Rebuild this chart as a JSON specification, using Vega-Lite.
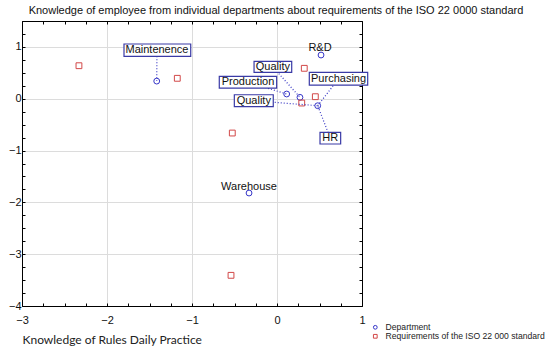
{
  "$schema": "https://vega.github.io/schema/vega-lite/v6.json",
  "width": 340,
  "height": 285,
  "autosize": "none",
  "padding": {"left": 22, "top": 21, "right": 188, "bottom": 43},
  "background": "white",
  "title": {
    "text": "Knowledge of employee from individual departments about requirements of the ISO 22 0000 standard",
    "font": "Liberation Sans",
    "fontSize": 11,
    "fontWeight": "normal",
    "color": "#111111",
    "anchor": "middle",
    "dx": 84,
    "offset": -1
  },
  "config": {
    "view": {"stroke": null},
    "axis": {
      "labelFont": "Liberation Sans",
      "labelFontSize": 11,
      "labelColor": "#111111",
      "domainColor": "#000000",
      "tickColor": "#000000",
      "labelFlush": false,
      "labelOverlap": false,
      "labelBound": false
    }
  },
  "datasets": {
    "points": [
      {"name": "Maintenence", "x": -1.415, "y": 0.34, "type": "Department"},
      {"name": "R&D", "x": 0.518, "y": 0.843, "type": "Department"},
      {"name": "Production", "x": 0.114, "y": 0.091, "type": "Department"},
      {"name": "Quality", "x": 0.27, "y": 0.027, "type": "Department"},
      {"name": "HR", "x": 0.479, "y": -0.135, "type": "Department"},
      {"name": "Warehouse", "x": -0.329, "y": -1.82, "type": "Department"},
      {"name": "R1", "x": -2.33, "y": 0.637, "type": "Requirements of the ISO 22 000 standard"},
      {"name": "R2", "x": -1.173, "y": 0.394, "type": "Requirements of the ISO 22 000 standard"},
      {"name": "R3", "x": 0.321, "y": 0.587, "type": "Requirements of the ISO 22 000 standard"},
      {"name": "R4", "x": 0.451, "y": 0.039, "type": "Requirements of the ISO 22 000 standard"},
      {"name": "R5", "x": 0.291, "y": -0.083, "type": "Requirements of the ISO 22 000 standard"},
      {"name": "R6", "x": -0.526, "y": -0.662, "type": "Requirements of the ISO 22 000 standard"},
      {"name": "R7", "x": -0.541, "y": -3.408, "type": "Requirements of the ISO 22 000 standard"}
    ],
    "labels": [
      {"label": "Maintenence", "lx": -1.412, "ly": 0.934, "bx1": -1.8, "bx2": -1.015, "by1": 1.056, "by2": 0.818, "px": -1.415, "py": 0.34},
      {"label": "Quality", "lx": -0.049, "ly": 0.616, "bx1": -0.27, "bx2": 0.173, "by1": 0.722, "by2": 0.509, "px": 0.27, "py": 0.027},
      {"label": "Production", "lx": -0.341, "ly": 0.318, "bx1": -0.679, "bx2": -0.004, "by1": 0.432, "by2": 0.206, "px": 0.114, "py": 0.091},
      {"label": "Quality", "lx": -0.273, "ly": -0.039, "bx1": -0.502, "bx2": -0.044, "by1": 0.077, "by2": -0.154, "px": 0.479, "py": -0.135},
      {"label": "Purchasing", "lx": 0.724, "ly": 0.386, "bx1": 0.38, "bx2": 1.067, "by1": 0.509, "by2": 0.264, "px": 0.479, "py": -0.135},
      {"label": "HR", "lx": 0.627, "ly": -0.762, "bx1": 0.506, "bx2": 0.749, "by1": -0.648, "by2": -0.874, "px": 0.479, "py": -0.135}
    ],
    "plain": [
      {"label": "R&D", "lx": 0.506, "ly": 0.972},
      {"label": "Warehouse", "lx": -0.329, "ly": -1.704}
    ]
  },
  "layer": [
    {
      "data": {"name": "points"},
      "mark": {"type": "point", "filled": false, "strokeWidth": 1, "opacity": 1, "size": 34},
      "encoding": {
        "x": {
          "field": "x", "type": "quantitative",
          "scale": {"domain": [-3, 1], "nice": false, "zero": false},
          "axis": {
            "orient": "bottom",
            "values": [-3, -2.75, -2.5, -2.25, -2, -1.75, -1.5, -1.25, -1, -0.75, -0.5, -0.25, 0, 0.25, 0.5, 0.75, 1],
            "format": "~g",
            "labelExpr": "datum.value % 1 === 0 ? datum.label : ''",
            "grid": true,
            "gridColor": "#dcdcdc",
            "gridOpacity": {"condition": {"test": "datum.value % 1 !== 0", "value": 0}, "value": 1},
            "tickSize": -3,
            "labelPadding": 11,
            "title": "Knowledge of Rules Daily Practice",
            "titleFont": "Lato",
            "titleFontSize": 12,
            "titleFontWeight": "normal",
            "titleColor": "#222222",
            "titleAnchor": "start",
            "titleAlign": "left",
            "titleBaseline": "alphabetic",
            "titleX": 0,
            "titleY": 37
          }
        },
        "y": {
          "field": "y", "type": "quantitative",
          "scale": {"domain": [-4, 1.5], "nice": false, "zero": false},
          "axis": {
            "orient": "left",
            "values": [-4, -3.75, -3.5, -3.25, -3, -2.75, -2.5, -2.25, -2, -1.75, -1.5, -1.25, -1, -0.75, -0.5, -0.25, 0, 0.25, 0.5, 0.75, 1, 1.25, 1.5],
            "format": "~g",
            "labelExpr": "datum.value % 1 === 0 ? datum.label : ''",
            "grid": true,
            "gridColor": "#dcdcdc",
            "gridOpacity": {"condition": {"test": "datum.value % 1 !== 0 || datum.value === -4", "value": 0}, "value": 1},
            "tickSize": -3,
            "labelPadding": 4,
            "title": null
          }
        },
        "shape": {
          "field": "type", "type": "nominal",
          "scale": {"domain": ["Department", "Requirements of the ISO 22 000 standard"], "range": ["circle", "square"]},
          "legend": {
            "orient": "none",
            "legendX": 349,
            "legendY": 302,
            "title": null,
            "padding": 0,
            "labelFont": "Liberation Sans",
            "labelFontSize": 8.6,
            "labelColor": "#222222",
            "labelLimit": 300,
            "labelOffset": 6,
            "symbolSize": 14,
            "symbolStrokeWidth": 1,
            "rowPadding": 0
          }
        },
        "color": {
          "field": "type", "type": "nominal",
          "scale": {"domain": ["Department", "Requirements of the ISO 22 000 standard"], "range": ["#3535c8", "#d24848"]}
        }
      }
    },
    {
      "data": {"name": "labels"},
      "mark": {"type": "rule", "strokeDash": [1, 2], "strokeWidth": 1.2, "color": "#3a3ac4"},
      "encoding": {
        "x": {"field": "lx", "type": "quantitative", "scale": {"domain": [-3, 1], "nice": false, "zero": false}, "axis": null},
        "y": {"field": "ly", "type": "quantitative", "scale": {"domain": [-4, 1.5], "nice": false, "zero": false}, "axis": null},
        "x2": {"field": "px"},
        "y2": {"field": "py"}
      }
    },
    {
      "data": {"name": "labels"},
      "mark": {"type": "rect", "fill": "white", "stroke": "#3a3aa6", "strokeWidth": 1.2},
      "encoding": {
        "x": {"field": "bx1", "type": "quantitative", "scale": {"domain": [-3, 1], "nice": false, "zero": false}, "axis": null},
        "x2": {"field": "bx2"},
        "y": {"field": "by1", "type": "quantitative", "scale": {"domain": [-4, 1.5], "nice": false, "zero": false}, "axis": null},
        "y2": {"field": "by2"}
      }
    },
    {
      "data": {"name": "labels"},
      "mark": {"type": "text", "font": "Liberation Sans", "fontSize": 11, "color": "#111111", "align": "center", "baseline": "middle"},
      "encoding": {
        "x": {"field": "lx", "type": "quantitative", "scale": {"domain": [-3, 1], "nice": false, "zero": false}, "axis": null},
        "y": {"field": "ly", "type": "quantitative", "scale": {"domain": [-4, 1.5], "nice": false, "zero": false}, "axis": null},
        "text": {"field": "label"}
      }
    },
    {
      "data": {"name": "plain"},
      "mark": {"type": "text", "font": "Liberation Sans", "fontSize": 11, "color": "#111111", "align": "center", "baseline": "middle"},
      "encoding": {
        "x": {
          "field": "lx", "type": "quantitative",
          "scale": {"domain": [-3, 1], "nice": false, "zero": false},
          "axis": {
            "orient": "top",
            "values": [-3, -2.75, -2.5, -2.25, -2, -1.75, -1.5, -1.25, -1, -0.75, -0.5, -0.25, 0, 0.25, 0.5, 0.75, 1],
            "labels": false, "grid": false, "tickSize": -3, "title": null
          }
        },
        "y": {
          "field": "ly", "type": "quantitative",
          "scale": {"domain": [-4, 1.5], "nice": false, "zero": false},
          "axis": {
            "orient": "right",
            "values": [-4, -3.75, -3.5, -3.25, -3, -2.75, -2.5, -2.25, -2, -1.75, -1.5, -1.25, -1, -0.75, -0.5, -0.25, 0, 0.25, 0.5, 0.75, 1, 1.25, 1.5],
            "labels": false, "grid": false, "tickSize": -3, "title": null
          }
        },
        "text": {"field": "label"}
      }
    }
  ],
  "resolve": {"axis": {"x": "independent", "y": "independent"}}
}
